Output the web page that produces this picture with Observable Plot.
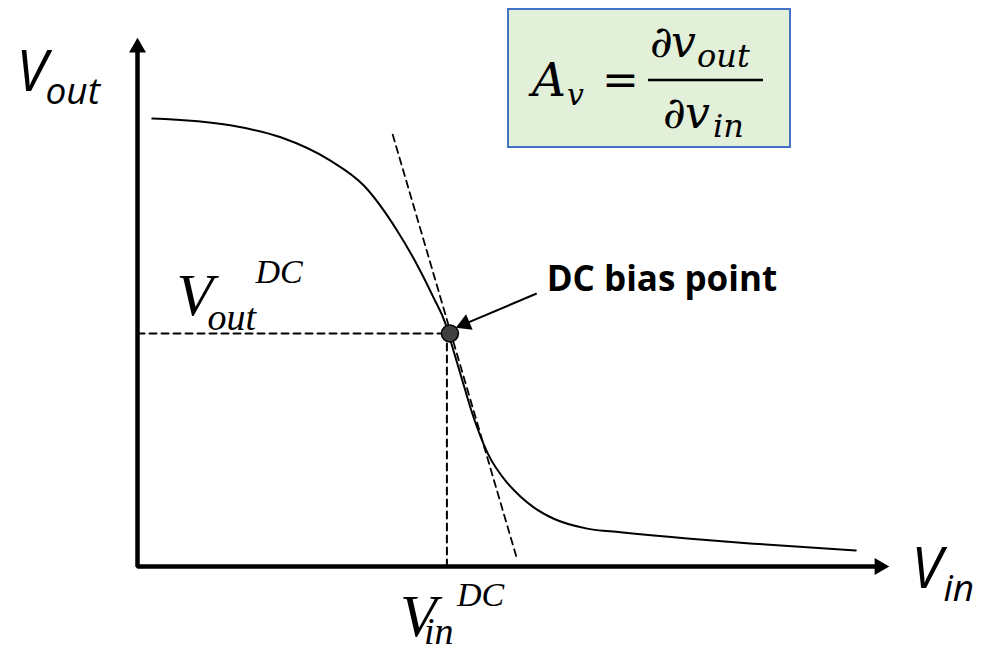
<!DOCTYPE html>
<html>
<head>
<meta charset="utf-8">
<script src="https://cdn.jsdelivr.net/npm/d3@7"></script>
<script src="https://cdn.jsdelivr.net/npm/@observablehq/plot@0.6"></script>
<style>
  html, body { margin: 0; padding: 0; background: #ffffff; }
  #wrap { position: relative; width: 984px; height: 651px; overflow: hidden; }
  #formula { position: absolute; left: 507px; top: 8px; width: 280px; height: 136px;
             background: #e2efd9; border: 2px solid #4472c4; }
  #formula svg { position: absolute; left: -2px; top: -2px; overflow: visible; }
  #formula text { font-family: "DejaVu Serif", "Liberation Serif", serif; font-style: italic; fill: #000; }
</style>
</head>
<body>
<div id="wrap">
  <div id="chart"></div>
  <div id="formula">
    <svg width="284" height="140">
      <text x="25" y="88" font-size="47">A</text>
      <text x="60" y="97" font-size="30">v</text>
      <text x="95" y="87" font-size="44" style="font-style:normal">=</text>
      <line x1="141" x2="256" y1="72" y2="72" stroke="#000" stroke-width="2.5"></line>
      <text x="143" y="49" font-size="44">∂</text>
      <text x="164" y="49" font-size="44">v</text>
      <text x="190" y="59" font-size="32">out</text>
      <text x="156" y="120" font-size="44">∂</text>
      <text x="178" y="120" font-size="44">v</text>
      <text x="206" y="129" font-size="32">in</text>
    </svg>
  </div>
</div>
<script>
// ---- data ----
const vin  = [0.20, 1.25, 1.93, 2.60, 3.05, 3.50, 3.81, 3.99, 4.15, 4.19, 4.35, 4.53, 4.72, 4.99, 5.16, 5.34, 5.61, 6.06, 6.51, 7.41, 8.30, 9.68];
const vout = [8.63, 8.50, 8.27, 7.82, 7.34, 6.47, 5.70, 5.18, 4.68, 4.49, 3.72, 2.87, 2.18, 1.60, 1.35, 1.14, 0.92, 0.73, 0.66, 0.54, 0.44, 0.31];
const biasVin = 4.17;
const biasVout = 4.49;
const tangentVin  = [3.44, 5.12];
const tangentVout = [8.32, 0.12];
const annotationText = "DC bias point";
const annotationFrom = [5.38, 5.26];
const annotationTo   = [4.29, 4.60];
const axisMax = 10;

// ---- layout ----
const W = 984, H = 651;
const xRange = [137, 879];
const yRange = [566, 47];

const curve = vin.map((v, i) => ({x: v, y: vout[i]}));
const tangent = tangentVin.map((v, i) => ({x: v, y: tangentVout[i]}));
const axisPath = [{x: 0, y: axisMax}, {x: 0, y: 0}, {x: axisMax, y: 0}];
const axisHeads = [{x: 0, y: axisMax, rot: 0}, {x: axisMax, y: 0, rot: 90}];

// arrowhead for annotation, computed from the scales
const sx = Plot.scale({x: {domain: [0, axisMax], range: xRange}});
const sy = Plot.scale({y: {domain: [0, axisMax], range: yRange}});
const headR = 6.3;
const tipDist = 2 * Math.sqrt(Math.PI * headR * headR / (3 * Math.sqrt(3)));
const fx = sx.apply(annotationFrom[0]), fy = sy.apply(annotationFrom[1]);
const tx = sx.apply(annotationTo[0]), ty = sy.apply(annotationTo[1]);
const len = Math.hypot(tx - fx, ty - fy);
const ux = (tx - fx) / len, uy = (ty - fy) / len;
const headCenter = {x: sx.invert(tx - ux * tipDist), y: sy.invert(ty - uy * tipDist),
                    rot: Math.atan2(uy, ux) * 180 / Math.PI + 90};

const sans = "'Open Sans', sans-serif";
const serif = "'Liberation Serif', 'Times New Roman', serif";
function label(anchor, txt, opts) {
  return Plot.text([anchor], {x: "x", y: "y", text: () => txt, textAnchor: "start", lineAnchor: "bottom",
                              fill: "black", ...opts});
}
const topAnchor = {x: 0, y: axisMax};
const rightAnchor = {x: axisMax, y: 0};
const voutAnchor = {x: 0, y: biasVout};
const vinAnchor = {x: biasVin, y: 0};
const annAnchor = {x: annotationFrom[0], y: annotationFrom[1]};

const chart = Plot.plot({
  width: W, height: H,
  marginTop: 0, marginRight: 0, marginBottom: 0, marginLeft: 0,
  x: {domain: [0, axisMax], range: xRange, axis: null},
  y: {domain: [0, axisMax], range: yRange, axis: null},
  style: {background: "transparent", overflow: "visible"},
  marks: [
    Plot.line([{x: 0, y: biasVout}, {x: biasVin, y: biasVout}], {x: "x", y: "y", stroke: "black", strokeWidth: 2, strokeDasharray: "7,5"}),
    Plot.line([{x: biasVin, y: 0}, {x: biasVin, y: biasVout}], {x: "x", y: "y", stroke: "black", strokeWidth: 2, strokeDasharray: "7,5"}),
    Plot.line(tangent, {x: "x", y: "y", stroke: "black", strokeWidth: 1.8, strokeDasharray: "7,5"}),
    Plot.line(curve, {x: "x", y: "y", curve: "monotone-x", stroke: "black", strokeWidth: 2}),
    Plot.line(axisPath, {x: "x", y: "y", stroke: "black", strokeWidth: 4.5, strokeLinejoin: "miter", strokeLinecap: "butt"}),
    Plot.dot(axisHeads, {x: "x", y: "y", symbol: "triangle", r: 6.3, fill: "black", stroke: null, rotate: "rot"}),
    Plot.link([{x1: annotationFrom[0], y1: annotationFrom[1], x2: headCenter.x, y2: headCenter.y}],
              {x1: "x1", y1: "y1", x2: "x2", y2: "y2", stroke: "black", strokeWidth: 2}),
    Plot.dot([headCenter], {x: "x", y: "y", symbol: "triangle", r: headR, fill: "black", stroke: null, rotate: "rot"}),
    Plot.dot([{x: biasVin, y: biasVout}], {x: "x", y: "y", r: 8.5, fill: "#404040", stroke: "black", strokeWidth: 1.5, dx: 3}),
    // axis labels
    label(topAnchor, "V", {dx: -121, dy: 43, fontSize: 56, fontFamily: sans, fontStyle: "italic"}),
    label(topAnchor, "out", {dx: -92, dy: 56, fontSize: 37, fontFamily: sans, fontStyle: "italic"}),
    label(rightAnchor, "V", {dx: 32, dy: 21, fontSize: 56, fontFamily: sans, fontStyle: "italic"}),
    label(rightAnchor, "in", {dx: 64, dy: 34, fontSize: 37, fontFamily: sans, fontStyle: "italic"}),
    // DC labels
    label(voutAnchor, "V", {dx: 39, dy: -18, fontSize: 60, fontFamily: serif, fontStyle: "italic"}),
    label(voutAnchor, "out", {dx: 70, dy: -3, fontSize: 38, fontFamily: serif, fontStyle: "italic"}),
    label(voutAnchor, "DC", {dx: 118, dy: -50, fontSize: 34, fontFamily: serif, fontStyle: "italic"}),
    label(vinAnchor, "V", {dx: -47, dy: 69, fontSize: 60, fontFamily: serif, fontStyle: "italic"}),
    label(vinAnchor, "in", {dx: -23, dy: 77, fontSize: 38, fontFamily: serif, fontStyle: "italic"}),
    label(vinAnchor, "DC", {dx: 10, dy: 39, fontSize: 34, fontFamily: serif, fontStyle: "italic"}),
    // annotation
    label(annAnchor, annotationText, {dx: 10, dy: -3, fontSize: 35, fontFamily: sans, fontWeight: "bold"})
  ]
});
document.getElementById("chart").appendChild(chart);
</script>
</body>
</html>
